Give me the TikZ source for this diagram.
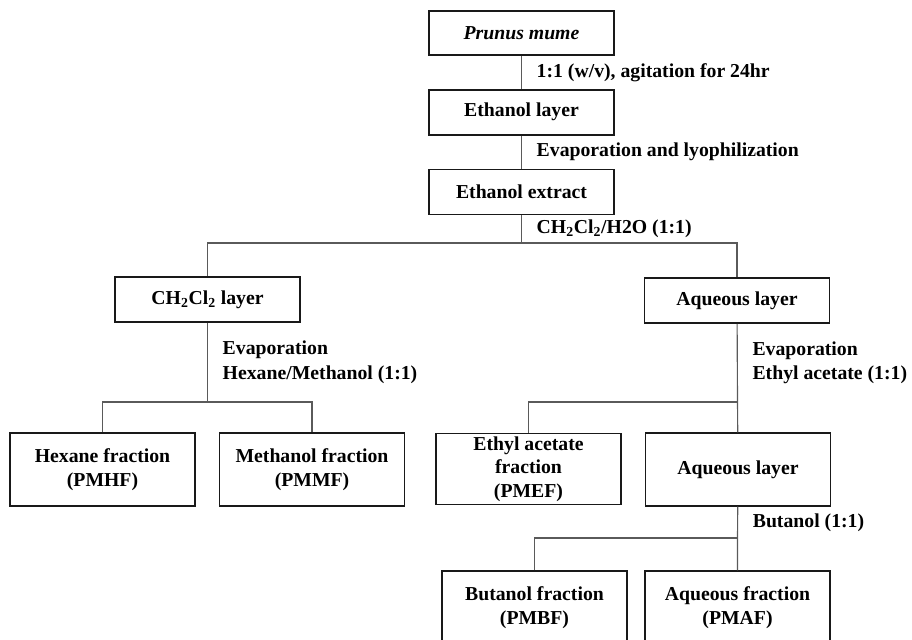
\documentclass[tikz,border=0pt]{standalone}
\usepackage{fontspec}
\setmainfont{Liberation Serif}
\usepackage{tikz}
\usetikzlibrary{positioning, calc}
\definecolor{linegray}{RGB}{90, 90, 90}
\definecolor{boxblack}{RGB}{25, 25, 25}

\begin{document}
\begin{tikzpicture}[x=0.75pt, y=-0.75pt,
    box/.style={rectangle, draw=boxblack, line width=1.3pt, fill=white, minimum width=138.75pt, minimum height=33.75pt, align=center, inner sep=0pt, font=\fontsize{14.8}{17.5}\selectfont\bfseries},
    tallbox/.style={box, minimum height=54.5pt},
    line/.style={draw=linegray, line width=0.85pt},
    lbl/.style={right, inner sep=0pt, xshift=11pt, align=left, font=\fontsize{14.8}{18.5}\selectfont\bfseries}]

    \useasboundingbox (0,0) rectangle (912,639);

    % Extraction column
    \node[box, minimum height=33pt] (prunus) at (521.5,33) {\textit{Prunus mume}};
    \node[box, below=24.75pt of prunus] (ethlayer) {Ethanol layer};
    \node[box, below=24.75pt of ethlayer] (extract) {Ethanol extract};

    % Partition layers
    \node[box] (ch2cl2) at (207.5,299.5) {CH\textsubscript{2}Cl\textsubscript{2} layer};
    \node[box] (aqueous) at (737,300.5) {Aqueous layer};

    % Fractions
    \node[tallbox] (hexane) at (102.5,469.5) {Hexane fraction\\(PMHF)};
    \node[tallbox] (methanol) at (312,469.5) {Methanol fraction\\(PMMF)};
    \node[tallbox, minimum height=53.25pt] (ethyl) at (528.5,469) {Ethyl acetate\\fraction\\(PMEF)};
    \node[tallbox] (aqueous2) at (738,469.5) {Aqueous layer};
    \node[tallbox] (butanol) at (534.5,607.5) {Butanol fraction\\(PMBF)};
    \node[tallbox] (aqfrac) at (737.5,607.5) {Aqueous fraction\\(PMAF)};

    % Branch points
    \coordinate (split1) at (521.5,243);
    \coordinate (split2) at (207.5,402);
    \coordinate (split3) at (737.5,402);
    \coordinate (split4) at (737.5,538);

    % Connections
    \draw[line] (prunus) -- node[lbl] {1:1 (w/v), agitation for 24hr} (ethlayer);
    \draw[line] (ethlayer) -- node[lbl] {Evaporation and lyophilization} (extract);
    \draw[line] (extract) -- node[lbl] {CH\textsubscript{2}Cl\textsubscript{2}/H2O (1:1)} (split1);
    \draw[line] (ch2cl2.north) |- (split1) -| (aqueous.north);
    \draw[line] (ch2cl2) -- node[lbl] {Evaporation\\Hexane/Methanol (1:1)} (split2);
    \draw[line] (hexane.north) |- (split2) -| (methanol.north);
    \draw[line] (aqueous) -- node[lbl] {Evaporation\\Ethyl acetate (1:1)} (split3) -- (aqueous2);
    \draw[line] (ethyl.north) |- (split3);
    \draw[line] (aqueous2) -- node[lbl] {Butanol (1:1)} (split4) -- (aqfrac);
    \draw[line] (butanol.north) |- (split4);
\end{tikzpicture}
\end{document}
